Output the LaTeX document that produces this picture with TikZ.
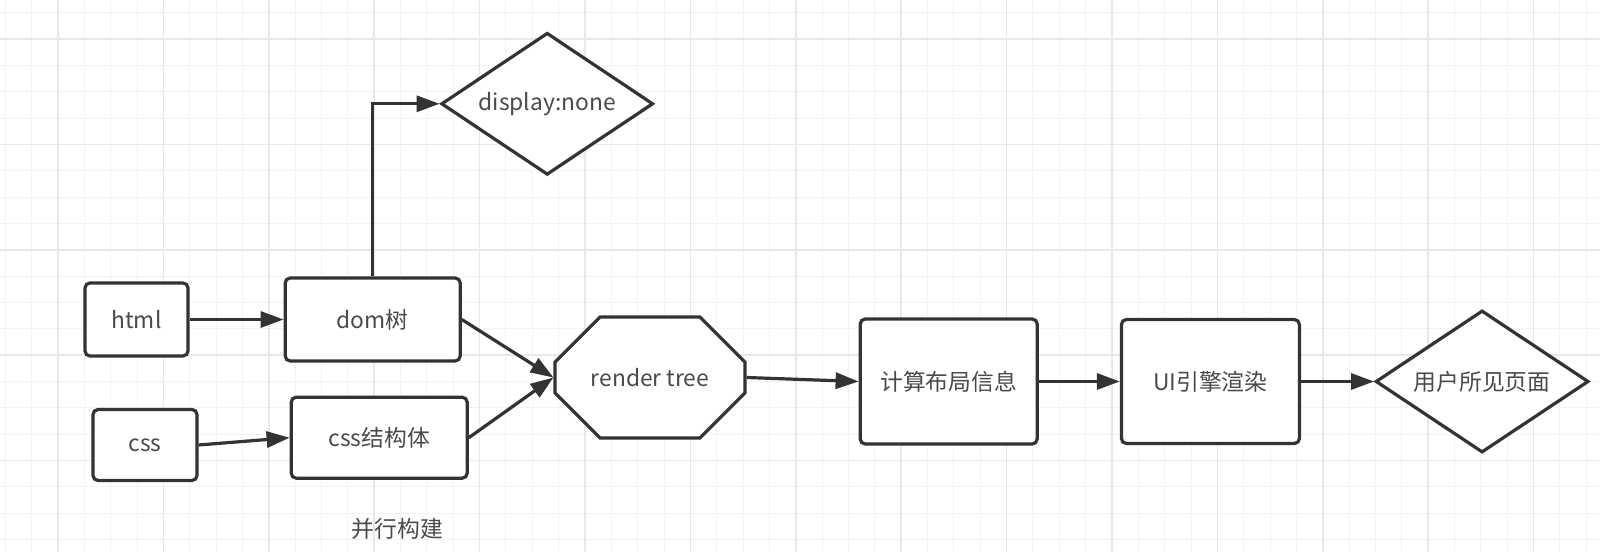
\documentclass[tikz,border=0pt]{standalone}
\usepackage{fontspec}
\setmainfont{Noto Sans CJK SC}
\usetikzlibrary{positioning, shapes.geometric, shapes.misc, arrows.meta}

\definecolor{linegray}{HTML}{333333}
\definecolor{textgray}{HTML}{4A4A4A}
\definecolor{gridmajor}{HTML}{E8E8E8}
\definecolor{gridminor}{HTML}{F3F3F3}

\tikzset{
  box/.style={draw=linegray, line width=1.6pt, rounded corners=2.5pt, fill=white, text=textgray, inner sep=0pt},
  choice/.style={diamond, aspect=1.5, draw=linegray, line width=1.6pt, fill=white, text=textgray, inner sep=0pt},
  merge/.style={chamfered rectangle, chamfered rectangle xsep=18pt, chamfered rectangle ysep=18pt, draw=linegray, line width=1.6pt, fill=white, text=textgray, inner sep=0pt},
  flow/.style={draw=linegray, line width=1.6pt, -{Triangle[length=11.5pt, width=8pt]}},
}

\begin{document}
\begin{tikzpicture}[node distance=47pt, font=\fontsize{11.4pt}{14pt}\selectfont]
    \useasboundingbox (0,0) rectangle (800pt,276pt);
    \fill[white] (0,0) rectangle (800pt,276pt);

    % Background grid
    \begin{scope}[shift={(29pt,256.5pt)}]
        \draw[gridminor, line width=0.5pt, step=13.175pt] (-29pt,-256.5pt) grid (771pt,19.5pt);
        \draw[gridmajor, line width=0.8pt, step=52.7pt] (-29pt,-256.5pt) grid (771pt,19.5pt);
    \end{scope}

    % Source row
    \node[box, minimum width=51.5pt, minimum height=36.5pt] (html) at (68.25pt,116.25pt) {html};
    \node[box, minimum width=87.5pt, minimum height=41.5pt, right=47pt of html] (dom) {dom树};
    \node[box, minimum width=52pt, minimum height=35.5pt] (css) at (72.5pt,53.5pt) {css};
    \node[box, minimum width=88pt, minimum height=40.5pt, below=16.5pt of dom, xshift=3.25pt] (cssobj) {css结构体};
    \node[inner sep=0pt, text=textgray, below=19pt of cssobj, xshift=9pt] (parallel) {并行构建};

    % Hidden branch
    \node[choice, minimum width=106pt, minimum height=71pt, above=50pt of dom, xshift=87.25pt] (hidden) {display:none};

    % Render pipeline
    \node[merge, minimum width=95pt, minimum height=60.5pt] (render) at (325pt,87.25pt) {render tree};
    \node[box, minimum width=88.5pt, minimum height=62.5pt, right=56pt of render, yshift=-2pt] (layout) {计算布局信息};
    \node[box, minimum width=89pt, minimum height=62pt, right=40.5pt of layout] (paint) {UI引擎渲染};
    \node[choice, minimum width=106.5pt, minimum height=71pt, right=36.5pt of paint] (page) {用户所见页面};

    % Connectors
    \draw[flow] (html) -- (dom);
    \draw[flow] (css.east) -- (cssobj.west);
    \draw[flow] (dom.north) |- (hidden.west);
    \draw[flow] (dom.east) -- (render.west);
    \draw[flow] (cssobj.east) -- (render.west);
    \draw[flow] (render.east) -- (layout.west);
    \draw[flow] (layout) -- (paint);
    \draw[flow] (paint) -- (page);
\end{tikzpicture}
\end{document}
